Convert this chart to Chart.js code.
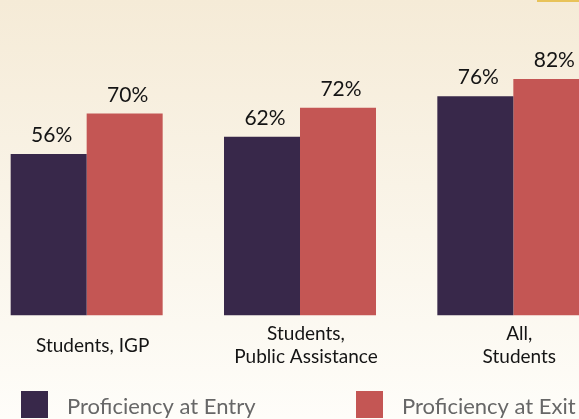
<!DOCTYPE html>
<html>
<head>
<meta charset="utf-8">
<script src="https://cdn.jsdelivr.net/npm/chart.js@4.4.1/dist/chart.umd.min.js"></script>
<style>
  html, body { margin: 0; padding: 0; width: 579px; height: 419px; overflow: hidden; }
  body { position: relative; background: linear-gradient(#f5ebd7, #fefdf9); }
  #wrap { position: absolute; left: -20px; top: 0; width: 640px; height: 419px; }
  #stripe { position: absolute; left: 537px; top: 0; width: 42px; height: 2px; background: #e8c35a; }
</style>
</head>
<body>
<div id="wrap"><canvas id="myChart"></canvas></div>
<div id="stripe"></div>
<script>
/*------------------------------Proficiency data------------------------------------*/
const categories = ["Students, IGP", ["Students,", "Public Assistance"], ["All,", "Students"]];
const entryValues = [56, 62, 76];
const exitValues = [70, 72, 82];
const seriesNames = ["Proficiency at Entry", "Proficiency at Exit"];
const seriesColors = ['#38284a', '#c45654'];

// percent labels above each bar
const valueLabels = {
  id: 'valueLabels',
  afterDatasetsDraw(chart) {
    const ctx = chart.ctx;
    ctx.save();
    ctx.font = '21px Lato';
    ctx.fillStyle = '#141414';
    ctx.textAlign = 'center';
    ctx.textBaseline = 'alphabetic';
    chart.data.datasets.forEach((ds, i) => {
      chart.getDatasetMeta(i).data.forEach((bar, j) => {
        ctx.fillText(ds.data[j] + '%', bar.x + 3, bar.y - 12);
      });
    });
    ctx.restore();
  }
};

// legend row along the bottom
const legendRow = {
  id: 'legendRow',
  afterDraw(chart) {
    const ctx = chart.ctx;
    const xs = [41, 376];
    ctx.save();
    ctx.font = '22px Lato';
    ctx.textAlign = 'left';
    ctx.textBaseline = 'alphabetic';
    chart.data.datasets.forEach((ds, i) => {
      ctx.fillStyle = ds.backgroundColor;
      ctx.fillRect(xs[i], 391, 27, 27);
      ctx.fillStyle = '#676767';
      ctx.fillText(ds.label, xs[i] + 46, 414);
    });
    ctx.restore();
  }
};

const ctx = document.getElementById('myChart').getContext('2d');
let barChart = new Chart(ctx, {
    type: 'bar',
    data: {
        labels: categories,
        datasets: [
          {
            label: seriesNames[0],
            backgroundColor: seriesColors[0],
            borderWidth: 0,
            barPercentage: 1,
            categoryPercentage: 0.7125,
            data: entryValues,
          },
          {
            label: seriesNames[1],
            backgroundColor: seriesColors[1],
            borderWidth: 0,
            barPercentage: 1,
            categoryPercentage: 0.7125,
            data: exitValues,
          }
        ]
    },
    options: {
        responsive: true,
        maintainAspectRatio: false,
        animation: false,
        layout: { padding: { top: 27, bottom: 20, left: 0, right: 0 } },
        plugins: {
            legend: { display: false },
            tooltip: { enabled: false }
        },
        scales: {
            x: {
                grid: { display: false, drawTicks: false },
                border: { display: false },
                ticks: {
                    color: '#141414',
                    font: { family: 'Lato', size: 19, lineHeight: 1.25 },
                    padding: 18,
                    labelOffset: 6,
                    crossAlign: 'center',
                    maxRotation: 0,
                    autoSkip: false
                }
            },
            y: { display: false, min: 0, max: 100 }
        }
    },
    plugins: [valueLabels, legendRow]
});
</script>
</body>
</html>
